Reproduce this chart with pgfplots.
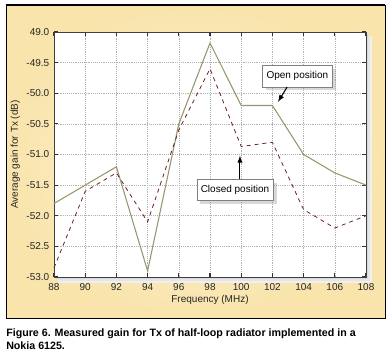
\documentclass[border=0pt]{standalone}
\usepackage{pgfplots}
\pgfplotsset{compat=1.18}
\usepackage{fontspec}
\setmainfont{Liberation Sans}
\usetikzlibrary{shadows}
\definecolor{framebg}{RGB}{249,228,172}
\definecolor{framein}{RGB}{253,243,212}
\definecolor{openc}{RGB}{148,152,108}
\definecolor{closedc}{RGB}{110,30,45}
\begin{document}
\begin{tikzpicture}[x=0.75pt,y=0.75pt]
\useasboundingbox (0,0) rectangle (391,355);
% frame
\path[inner color=framein, outer color=framebg] (6,37) rectangle (385,350);
\draw[black,line width=0.5pt] (6,37) rectangle (385,350);
\draw[black,line width=1.5pt] (6,350) -- (385,350);
% axis shadow (soft)
\fill[black!6] (58,72) rectangle (372,319);
\fill[black!10] (57,74) rectangle (370,320);
\fill[black!15] (56,76) rectangle (368,321);
\begin{axis}[
  at={(40.5pt,58.5pt)}, anchor=south west,
  scale only axis, width=234pt, height=183.75pt,
  xmin=88, xmax=108, ymin=-53, ymax=-49,
  xtick={88,90,...,108},
  xticklabels={88,90,92,94,96,98,100,102,104,106,108},
  ytick={-53,-52.5,...,-49},
  yticklabels={-53.0,-52.5,-52.0,-51.5,-51.0,-50.5,-50.0,-49.5,49.0},
  tick align=inside, major tick length=3pt,
  tick style={black!80, line width=0.8pt},
  axis line style={black!75, line width=0.6pt},
  axis background/.style={fill=white},
  grid=major, grid style={densely dotted, black!30, line width=0.4pt},
  tick label style={font=\fontsize{7.5}{9}\selectfont, text=black!85},
  xticklabel style={yshift=-1pt},
  xlabel={Frequency (MHz)}, ylabel={Average gain for Tx (dB)},
  label style={font=\fontsize{7.5}{9}\selectfont, text=black!85},
  xlabel style={yshift=3pt},
  ylabel style={yshift=-2pt},
  clip=false,
]
\addplot[openc, line width=0.8pt] coordinates {
(88,-51.8) (90,-51.5) (92,-51.2) (94,-52.9) (96,-50.5) (98,-49.18)
(100,-50.2) (102,-50.2) (104,-51.0) (106,-51.3) (108,-51.5)};
\addplot[closedc, line width=0.6pt, dashed] coordinates {
(88,-52.85) (90,-51.6) (92,-51.3) (94,-52.1) (96,-50.6) (98,-49.6)
(100,-50.87) (102,-50.8) (104,-51.9) (106,-52.2) (108,-52.0)};
\node[draw=black!50, fill=white, line width=0.4pt, drop shadow={opacity=0.3},
  font=\fontsize{7.5}{9}\selectfont, inner sep=3pt, minimum height=16pt]
  at (axis cs:103.6,-49.72) {Open position};
\draw[-latex, line width=0.8pt] (axis cs:102.94,-49.9) -- (axis cs:102.36,-50.14);
\node[draw=black!50, fill=white, line width=0.4pt, drop shadow={opacity=0.3},
  font=\fontsize{7.5}{9}\selectfont, inner sep=3pt, minimum height=16pt]
  at (axis cs:99.6,-51.58) {Closed position};
\draw[-latex, line width=0.8pt] (axis cs:99.92,-51.4) -- (axis cs:99.92,-51.02);
\end{axis}
\node[anchor=base west, font=\bfseries\fontsize{8.0}{10}\selectfont, inner sep=0pt]
  at (6,19) {Figure 6. Measured gain for Tx of half-loop radiator implemented in a};
\node[anchor=base west, font=\bfseries\fontsize{8.0}{10}\selectfont, inner sep=0pt]
  at (6,6) {Nokia 6125.};
\end{tikzpicture}
\end{document}
